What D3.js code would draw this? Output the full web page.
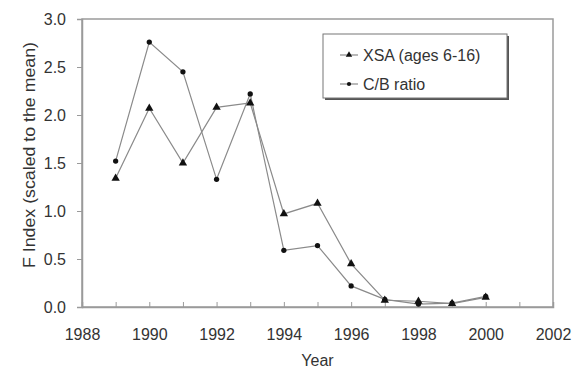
<!DOCTYPE html>
<html>
<head>
<meta charset="utf-8">
<script src="https://cdn.jsdelivr.net/npm/d3@7"></script>
<style>
  html, body { margin: 0; padding: 0; background: #fff; }
  svg { display: block; font-family: Arial, "Liberation Sans", sans-serif; }
</style>
</head>
<body>
<svg id="chart" width="577" height="370"></svg>
<script>
// Fishing mortality index by year, two estimates
const years = [1989, 1990, 1991, 1992, 1993, 1994, 1995, 1996, 1997, 1998, 1999, 2000];
const xsaValues = [1.34, 2.07, 1.50, 2.08, 2.125, 0.97, 1.08, 0.45, 0.07, 0.06, 0.035, 0.10];
const cbValues  = [1.52, 2.76, 2.45, 1.33, 2.22, 0.59, 0.64, 0.22, 0.08, 0.03, 0.04, 0.11];
const seriesNames = ["XSA (ages 6-16)", "C/B ratio"];
const xTickLabels = [1988, 1990, 1992, 1994, 1996, 1998, 2000, 2002];
const yTickLabels = [0.0, 0.5, 1.0, 1.5, 2.0, 2.5, 3.0];

const svg = d3.select("#chart");
const margin = { left: 82, right: 24, top: 19, bottom: 63 };
const W = 577, H = 370;
const x = d3.scaleLinear().domain([1988, 2002]).range([margin.left, W - margin.right]);
const y = d3.scaleLinear().domain([0, 3]).range([H - margin.bottom, margin.top]);

const axisColor = "#9a9a9a";
const textColor = "#333";
const fontSize = 16;

// plot frame
svg.append("rect")
  .attr("x", x(1988)).attr("y", y(3))
  .attr("width", x(2002) - x(1988)).attr("height", y(0) - y(3))
  .attr("fill", "none").attr("stroke", axisColor).attr("stroke-width", 1.5);

// y axis
const yAxis = svg.append("g")
  .attr("transform", `translate(${x(1988)},0)`)
  .call(d3.axisLeft(y).tickValues(yTickLabels).tickFormat(d3.format(".1f")).tickSize(5).tickPadding(11));
yAxis.select(".domain").attr("stroke", axisColor).attr("stroke-width", 1.5);
yAxis.selectAll(".tick line").attr("stroke", axisColor);
yAxis.selectAll("text").attr("font-size", fontSize).attr("fill", textColor)
  .attr("font-family", "Arial, 'Liberation Sans', sans-serif");

// x axis: yearly ticks pointing inward, labels every two years
const xAxis = svg.append("g")
  .attr("transform", `translate(0,${y(0)})`)
  .call(d3.axisBottom(x).tickValues(d3.range(1988, 2003)).tickSize(-5)
    .tickFormat(d => xTickLabels.includes(d) ? d : "").tickPadding(22));
xAxis.select(".domain").attr("stroke", axisColor).attr("stroke-width", 1.5);
xAxis.selectAll(".tick line").attr("stroke", axisColor);
xAxis.selectAll("text").attr("font-size", fontSize).attr("fill", textColor)
  .attr("font-family", "Arial, 'Liberation Sans', sans-serif");

// axis titles
svg.append("text")
  .attr("x", (x(1988) + x(2002)) / 2).attr("y", 366)
  .attr("text-anchor", "middle").attr("font-size", fontSize).attr("fill", textColor)
  .text("Year");
svg.append("text")
  .attr("transform", "translate(35,155) rotate(-90)")
  .attr("text-anchor", "middle").attr("font-size", fontSize).attr("fill", textColor)
  .attr("textLength", 226).attr("lengthAdjust", "spacingAndGlyphs")
  .text("F Index (scaled to the mean)");

const line = d3.line().x(d => x(d[0])).y(d => y(d[1]));
const xsa = years.map((yr, i) => [yr, xsaValues[i]]);
const cb = years.map((yr, i) => [yr, cbValues[i]]);

const lineColor = "#8a8a8a";
const tri = d3.symbol().type(d3.symbolTriangle).size(30);
const dot = d3.symbol().type(d3.symbolCircle).size(22);

function drawSeries(data, sym) {
  svg.append("path").datum(data).attr("d", line)
    .attr("fill", "none").attr("stroke", lineColor).attr("stroke-width", 1.2);
  svg.append("g").selectAll("path").data(data).join("path")
    .attr("transform", d => `translate(${x(d[0])},${y(d[1])})`)
    .attr("d", sym).attr("fill", "#111");
}
drawSeries(cb, dot);
drawSeries(xsa, tri);

// legend with drop shadow
const lg = { x: 323, y: 34, w: 184, h: 64 };
svg.append("rect").attr("x", lg.x + 2).attr("y", lg.y + 2).attr("width", lg.w).attr("height", lg.h)
  .attr("fill", "#555");
svg.append("rect").attr("x", lg.x).attr("y", lg.y).attr("width", lg.w).attr("height", lg.h)
  .attr("fill", "#fff").attr("stroke", "#777").attr("stroke-width", 1);
const legendSymbols = [d3.symbol().type(d3.symbolTriangle).size(18), d3.symbol().type(d3.symbolCircle).size(14)];
const legendRows = [{ name: seriesNames[0], sym: legendSymbols[0], cy: 55 }, { name: seriesNames[1], sym: legendSymbols[1], cy: 84 }];
legendRows.forEach(r => {
  svg.append("line").attr("x1", 340).attr("x2", 358).attr("y1", r.cy).attr("y2", r.cy)
    .attr("stroke", lineColor).attr("stroke-width", 1.2);
  svg.append("path").attr("transform", `translate(349,${r.cy})`).attr("d", r.sym).attr("fill", "#111");
  svg.append("text").attr("x", 363).attr("y", r.cy + 5.5).attr("font-size", fontSize).attr("fill", textColor)
    .text(r.name);
});
</script>
</body>
</html>
